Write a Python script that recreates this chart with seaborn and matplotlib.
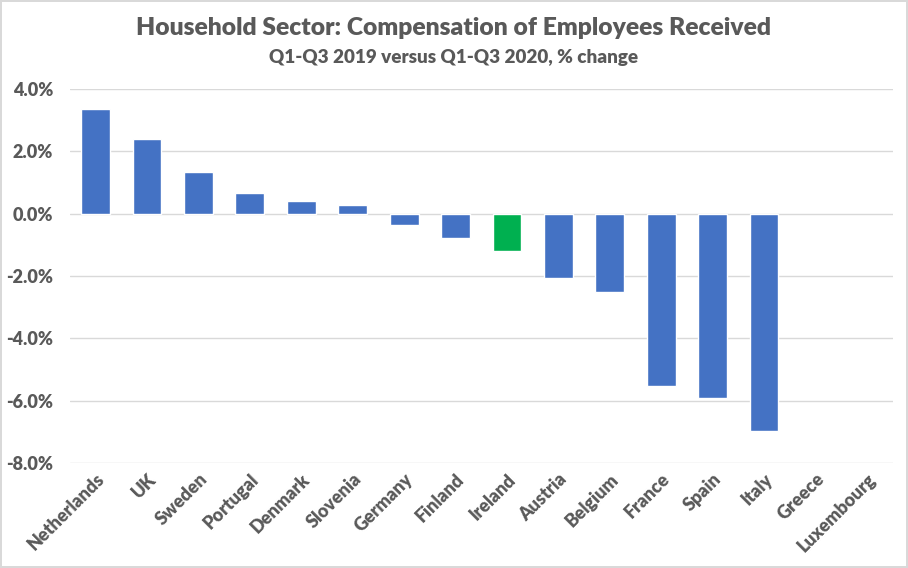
import numpy as np
import pandas as pd
import matplotlib
matplotlib.use("Agg")
import matplotlib.pyplot as plt
import seaborn as sns
from matplotlib.ticker import FuncFormatter

# Dados
countries = ["Netherlands", "UK", "Sweden", "Portugal", "Denmark", "Slovenia",
             "Germany", "Finland", "Ireland", "Austria", "Belgium", "France",
             "Spain", "Italy", "Greece", "Luxembourg"]
pct_change = [3.37, 2.41, 1.35, 0.67, 0.42, 0.27, -0.37, -0.79, -1.21,
              -2.05, -2.51, -5.52, -5.90, -6.97, np.nan, np.nan]
highlight = "Ireland"

title = "Household Sector: Compensation of Employees Received"
subtitle = "Q1-Q3 2019 versus Q1-Q3 2020, % change"

BLUE = "#4472C4"
GREEN = "#00B050"
TEXT = "#595959"
GRID = "#D9D9D9"
WEIGHT = "heavy"

df = pd.DataFrame({"country": countries, "value": pct_change})
palette = {c: (GREEN if c == highlight else BLUE) for c in countries}

sns.set_theme(style="white")
plt.rcParams["font.family"] = ["Lato", "DejaVu Sans"]

fig = plt.figure(figsize=(9.08, 5.68), dpi=100)
fig.patch.set_edgecolor("#D9D9D9")
fig.patch.set_linewidth(1.5)
ax = fig.add_axes([0.077, 0.185, 0.906, 0.658])

sns.barplot(data=df, x="country", y="value", hue="country", palette=palette,
            width=0.56, legend=False, ax=ax, saturation=1, errorbar=None)

ax.set_ylim(-8, 4)
ax.set_yticks(np.arange(-8, 4.1, 2))
ax.yaxis.set_major_formatter(FuncFormatter(lambda v, p: f"{v:.1f}%"))
ax.set_xlim(-0.5, len(countries) - 0.5)
ax.grid(axis="y", color=GRID, linewidth=1)
ax.set_axisbelow(True)
for s in ax.spines.values():
    s.set_visible(False)
ax.set_xlabel("")
ax.set_ylabel("")
ax.tick_params(axis="both", length=0, colors=TEXT)
ax.tick_params(axis="y", pad=12)

for lbl in ax.get_yticklabels():
    lbl.set_fontsize(13)
    lbl.set_fontweight(WEIGHT)
    lbl.set_color(TEXT)

# rótulos do eixo x ficam abaixo do gráfico
ax.set_xticks(range(len(countries)))
ax.set_xticklabels(countries, rotation=45, ha="right", rotation_mode="anchor",
                   fontsize=13, fontweight=WEIGHT, color=TEXT)
ax.tick_params(axis="x", pad=0)
for lbl in ax.get_xticklabels():
    lbl.set_y(-0.02)

fig.text(0.5, 0.950, title, ha="center", va="center", fontsize=17.7,
         fontweight=WEIGHT, color=TEXT)
fig.text(0.5, 0.898, subtitle, ha="center", va="center", fontsize=13.6,
         fontweight=WEIGHT, color=TEXT)

fig.savefig("out.png", dpi=100, edgecolor=fig.get_edgecolor())
